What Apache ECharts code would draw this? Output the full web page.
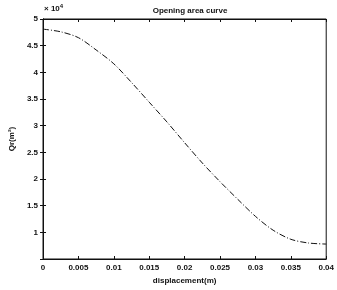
<!DOCTYPE html>
<html><head><meta charset="utf-8">
<script src="https://cdn.jsdelivr.net/npm/echarts@6/dist/echarts.min.js"></script>
<style>html,body{margin:0;padding:0;background:#fff}#c{width:337px;height:290px}</style>
</head><body><div id="c"></div>
<script>
const displacement = [0, 0.0025, 0.005, 0.0075, 0.01, 0.0125, 0.015, 0.0175, 0.02, 0.0225, 0.025, 0.0275, 0.03, 0.0325, 0.035, 0.0375, 0.04];
const openingArea = [48100, 47600, 46500, 44200, 41600, 38100, 34400, 30700, 26800, 23000, 19500, 16200, 13000, 10400, 8700, 8000, 7800];
const xTicks = [0, 0.005, 0.01, 0.015, 0.02, 0.025, 0.03, 0.035, 0.04];
const yTicks = [1, 1.5, 2, 2.5, 3, 3.5, 4, 4.5, 5];

const chart = echarts.init(document.getElementById('c'), null, {renderer: 'canvas'});
const font = {fontFamily: 'Liberation Sans', fontSize: 8, fontWeight: 'bold', color: '#111'};
const axisLine = {show: true, lineStyle: {color: '#111', width: 1}};
const tick = {show: true, inside: true, length: 3, lineStyle: {color: '#111'}};
chart.setOption({
  animation: false,
  backgroundColor: '#fff',
  title: {text: 'Opening area curve', left: 185, top: 2, textAlign: 'center',
    textStyle: Object.assign({}, font, {fontSize: 8})},
  graphic: [{type: 'text', left: 44, top: 3,
    style: {text: '× 10{s|4}', rich: {s: {fontSize: 6, fontFamily: 'Liberation Sans', fontWeight: 'bold', padding: [0,0,5,0]}}, font: 'bold 8px Liberation Sans', fill: '#111'}}],
  grid: {left: 41, right: 8, top: 19, bottom: 30, show: true, borderColor: '#111', borderWidth: 1},
  xAxis: [{
    type: 'value', min: 0, max: 0.04, interval: 0.005,
    name: 'displacement(m)', nameLocation: 'middle', nameGap: 18,
    nameTextStyle: font,
    axisLine: axisLine, axisTick: tick, splitLine: {show: false},
    axisLabel: Object.assign({}, font, {margin: 5, formatter: v => xTicks.some(t => Math.abs(t - v) < 1e-9) ? String(+v.toFixed(3)) : ''})
  }, {
    type: 'value', position: 'top', min: 0, max: 0.04, interval: 0.005,
    axisLine: axisLine, axisTick: tick, axisLabel: {show: false}, splitLine: {show: false}
  }],
  yAxis: [{
    type: 'value', min: 5000, max: 50000, interval: 5000,
    name: 'Qr(m²)', nameLocation: 'middle', nameGap: 22,
    nameTextStyle: font,
    axisLine: axisLine, axisTick: tick, splitLine: {show: false},
    axisLabel: Object.assign({}, font, {margin: 5, formatter: v => yTicks.includes(v / 10000) ? String(v / 10000) : ''})
  }, {
    type: 'value', position: 'right', min: 5000, max: 50000, interval: 5000,
    axisLine: axisLine, axisTick: tick, axisLabel: {show: false}, splitLine: {show: false}
  }],
  series: [{
    type: 'line', smooth: 0.3, symbol: 'none',
    data: displacement.map((x, i) => [x, openingArea[i]]),
    lineStyle: {color: '#111', width: 1, type: [6, 2, 1, 2]}
  }]
});
</script></body></html>
